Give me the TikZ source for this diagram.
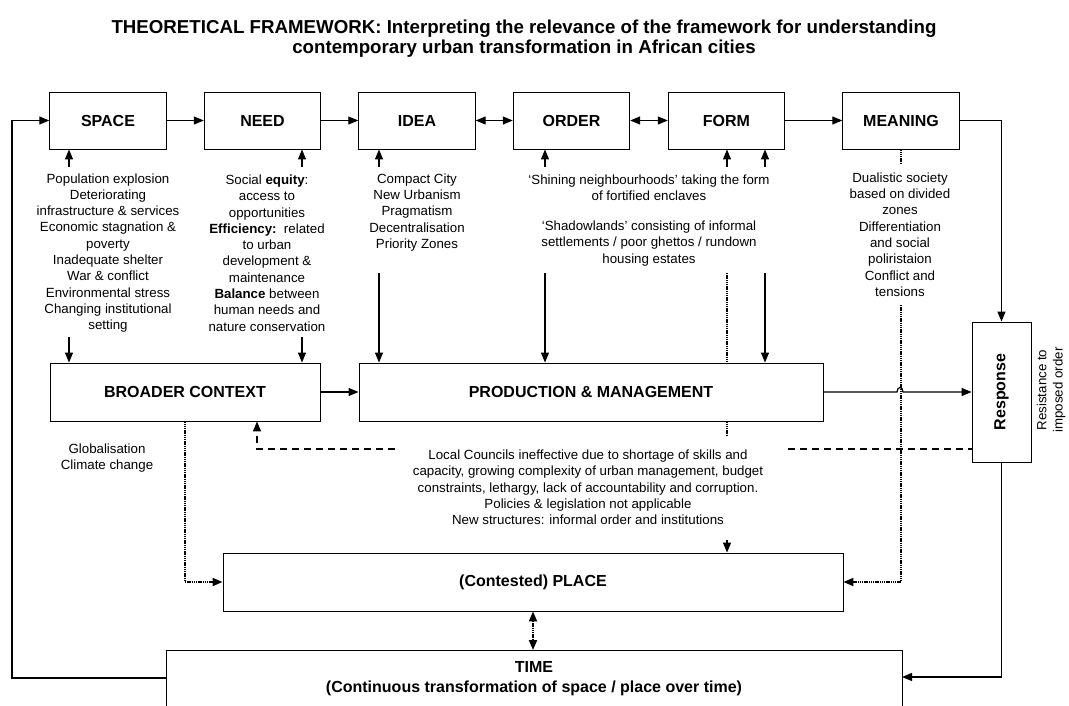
\documentclass[tikz,border=0pt]{standalone}
\usepackage{fontspec}
\setmainfont{Liberation Sans}
\usetikzlibrary{arrows.meta}
\begin{document}
\begin{tikzpicture}[x=1pt,y=-1pt,
  box/.style={draw, line width=0.9pt, inner sep=0pt, font=\bfseries\fontsize{16}{19}\selectfont},
  topbox/.style={box, minimum width=116.5pt, minimum height=57pt},
  txt/.style={align=center, inner sep=0pt, font=\fontsize{13.3}{16.3}\selectfont},
  titlef/.style={align=center, inner sep=0pt, font=\bfseries\fontsize{18.7}{20.5}\selectfont},
  tip/.style={-{Triangle[length=10pt,width=8pt]}},
  arr/.style={line width=1.2pt, tip},
  darr/.style={line width=1.2pt, {Triangle[length=10pt,width=8pt]}-{Triangle[length=10pt,width=8pt]}},
  dotl/.style={line width=1.9pt, dash pattern=on 1.4pt off 0.8pt},
  dashl/.style={line width=1.4pt, dash pattern=on 7pt off 5pt}
]
\useasboundingbox (0,0) rectangle (1069,706);
\clip (0,0) rectangle (1069,706);

% title
\node[titlef] (title) at (524,38.5) {THEORETICAL FRAMEWORK: Interpreting the relevance of the framework for understanding\\contemporary urban transformation in African cities};

% top row
\node[topbox] (space)   at (108,120.5)   {SPACE};
\node[topbox] (need)    at (262.5,120.5) {NEED};
\node[topbox] (idea)    at (417,120.5)   {IDEA};
\node[topbox] (order)   at (571.5,120.5) {ORDER};
\node[topbox] (form)    at (726.5,120.5) {FORM};
\node[topbox] (meaning) at (901,120.5)   {MEANING};

% middle row
\node[box, minimum width=270pt, minimum height=58pt] (bc)   at (185,392) {BROADER CONTEXT};
\node[box, minimum width=464pt, minimum height=58pt] (prod) at (591,392) {PRODUCTION \& MANAGEMENT};
\node[box, minimum width=59pt, minimum height=140pt] (resp) at (1001.5,392) {};
\node[rotate=90, inner sep=0pt, font=\bfseries\fontsize{16}{19}\selectfont] (resptxt) at (resp.center) {Response};
\node[txt, rotate=90] (resist) at (1051,390) {Resistance to\\imposed order};

% place and time
\node[box, minimum width=620pt, minimum height=58pt] (place) at (533,582) {(Contested) PLACE};
\node[box, minimum width=736pt, minimum height=80pt, anchor=north] (time) at (534,650) {};
\node[align=center, inner sep=0pt, font=\bfseries\fontsize{16}{20}\selectfont] (timetxt) at (534,679) {TIME\\(Continuous transformation of space / place over time)};

% text blocks
\node[txt] (t1) at (108,253) {Population explosion\\Deteriorating\\infrastructure \& services\\Economic stagnation \&\\poverty\\Inadequate shelter\\War \& conflict\\Environmental stress\\Changing institutional\\setting};
\node[txt] (t2) at (267,253) {Social \textbf{equity}:\\access to\\opportunities\\\textbf{Efficiency:}\ \ related\\to urban\\development \&\\maintenance\\\textbf{Balance} between\\human needs and\\nature conservation};
\node[txt] (t3) at (417,212.5) {Compact City\\New Urbanism\\Pragmatism\\Decentralisation\\Priority Zones};
\node[txt] (t4) at (649,188) {`Shining neighbourhoods' taking the form\\of fortified enclaves};
\node[txt] (t5) at (649,243.5) {`Shadowlands' consisting of informal\\settlements / poor ghettos / rundown\\housing estates};
\node[txt] (t6) at (900,234.5) {Dualistic society\\based on divided\\zones\\Differentiation\\and social\\poliristaion\\Conflict and\\tensions};
\node[txt] (t7) at (107,458) {Globalisation\\Climate change};
\node[txt] (t8) at (588,487.5) {Local Councils ineffective due to shortage of skills and\\capacity, growing complexity of urban management, budget\\constraints, lethargy, lack of accountability and corruption.\\Policies \& legislation not applicable\\New structures: informal order and institutions};

% top row connectors
\draw[arr] (space.east) -- (need.west);
\draw[arr] (need.east) -- (idea.west);
\draw[darr] (idea.east) -- (order.west);
\draw[darr] (order.east) -- (form.west);
\draw[arr] (form.east) -- (meaning.west);

% feedback loop left
\coordinate (tl) at (166,678);
\draw[arr] (tl) -- ++(-154,0) |- (space.west);

% meaning to response, response to time
\draw[arr] (meaning.east) -| (resp.north);
\coordinate (tr) at (902,677);
\draw[arr] (resp.south) |- (tr);

% small arrows under top boxes
\coordinate (a1) at (69,167);
\coordinate (a2) at (302,167);
\coordinate (a3) at (379,167);
\coordinate (a4) at (545,167);
\coordinate (a5) at (727,167);
\coordinate (a6) at (765,167);
\draw[arr] (a1) -- (a1 |- space.south);
\draw[arr] (a2) -- (a2 |- need.south);
\draw[arr] (a3) -- (a3 |- idea.south);
\draw[arr] (a4) -- (a4 |- order.south);
\draw[arr] (a5) -- (a5 |- form.south);
\draw[arr] (a6) -- (a6 |- form.south);

% arrows into broader context
\coordinate (b1) at (69,337);
\coordinate (b2) at (302,337);
\draw[arr] (b1) -- (b1 |- bc.north);
\draw[arr] (b2) -- (b2 |- bc.north);

% arrows into production & management
\coordinate (c1) at (379,273);
\coordinate (c2) at (545,273);
\coordinate (c3) at (765,273);
\coordinate (c4) at (727,273);
\coordinate (c5) at (727,435);
\coordinate (c6) at (727,540);
\draw[arr] (c1) -- (c1 |- prod.north);
\draw[arr] (c2) -- (c2 |- prod.north);
\draw[arr] (c3) -- (c3 |- prod.north);
\draw[dotl] (c4) -- (c4 |- prod.north);
\draw[dotl] (c5 |- prod.south) -- (c5);
\draw[arr] (c6) -- (c6 |- place.north);

% broader context to production
\draw[arr] (bc.east) -- (prod.west);

% production to response with line jump
\coordinate (j1) at (897,392);
\coordinate (j2) at (903,392);
\draw[arr] (prod.east) -- (j1) .. controls (897,386) and (903,386) .. (j2) -- (resp.west);

% dashed feedback
\coordinate (d1) at (788,449);
\coordinate (d2) at (395,449);
\coordinate (d3) at (257,449);
\draw[dashl] (d1) -- (d1 -| resp.west);
\draw[dashl, tip] (d2) -- (d3) -- (d3 |- bc.south);

% dotted lines into place
\coordinate (e1) at (185,582);
\draw[dotl, tip] (bc.south) -- (e1) -- (place.west);
\coordinate (f0) at (901,163);
\coordinate (f1) at (901,305);
\draw[dotl] (meaning.south) -- (f0);
\draw[dotl, tip] (f1) |- (place.east);

% place <-> time
\draw[dotl, {Triangle[length=10pt,width=8pt]}-{Triangle[length=10pt,width=8pt]}] (place.south) -- (place.south |- time.north);
\end{tikzpicture}
\end{document}
